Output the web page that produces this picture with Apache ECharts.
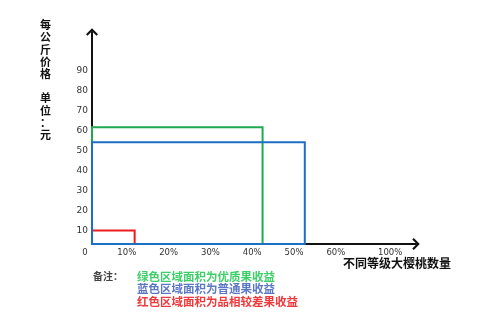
<!DOCTYPE html>
<html>
<head>
<meta charset="utf-8">
<script src="https://cdn.jsdelivr.net/npm/echarts@6/dist/echarts.min.js"></script>
<style>
html,body{margin:0;padding:0;background:#fff;}
#chart{width:496px;height:328px;}
</style>
</head>
<body>
<div id="chart"></div>
<script>
// ---- data ----
const categories = ['优质果', '普通果', '品相较差果'];
const shareValues = [40.8, 50.9, 10.2];   // x: share of cherries (%)
const priceValues = [58.4, 50.9, 6.8];    // y: price per jin (元)
const seriesColors = ['#1faa4f', '#1c6fc2', '#ee1c1c'];
const noteTexts = ['绿色区域面积为优质果收益', '蓝色区域面积为普通果收益', '红色区域面积为品相较差果收益'];
const noteColors = ['#3fcf6a', '#5b78c6', '#f0393b'];
const xTickValues = [0, 10, 20, 30, 40, 50, 60, 73];
const xTickLabels = ['0', '10%', '20%', '30%', '40%', '50%', '60%', '100%'];
const yTickValues = [10, 20, 30, 40, 50, 60, 70, 80, 90];
const yTickLabels = ['10', '20', '30', '40', '50', '60', '70', '80', '90'];
const yAxisName = ['每', '公', '斤', '价', '格', '', '单', '位', '：', '元'];
const xAxisName = '不同等级大樱桃数量';
const noteTitle = '备注：';
// draw order: green, red, blue (blue on top)
const drawOrder = [0, 2, 1];

const chart = echarts.init(document.getElementById('chart'), null, {renderer: 'canvas'});
const arrow = 'path://M10,0 L20,10 L17.5,12.5 L10,5 L2.5,12.5 L0,10 Z';
const cjk = '"Noto Sans CJK SC", sans-serif';

const richNotes = {};
noteColors.forEach((c, i) => { richNotes['n' + i] = {color: c, fontSize: 11.5, lineHeight: 12.5, fontFamily: cjk}; });

const option = {
  animation: false,
  backgroundColor: '#ffffff',
  grid: {left: 92, right: 80, top: 32, bottom: 84, containLabel: false, outerBoundsMode: 'none'},
  title: [
    {
      text: yAxisName.join('\n'), left: 40, top: 19, padding: 0,
      textStyle: {fontSize: 11, fontWeight: 'bold', lineHeight: 12.2, color: '#111', fontFamily: cjk}
    },
    {
      text: xAxisName, left: 343, top: 257, padding: 0,
      textStyle: {fontSize: 12, fontWeight: 'bold', color: '#111', fontFamily: cjk}
    },
    {
      text: noteTitle, left: 93, top: 271, padding: 0,
      textStyle: {fontSize: 10, fontWeight: 'bold', color: '#444', fontFamily: cjk}
    },
    {
      text: noteTexts.map((t, i) => '{n' + i + '|' + t + '}').join('\n'),
      left: 137, top: 270, padding: 0,
      textStyle: {rich: richNotes}
    }
  ],
  xAxis: {
    type: 'value', min: 0, max: 77.5,
    axisLine: {show: true, lineStyle: {color: '#111', width: 2}, symbol: ['none', arrow], symbolSize: [12, 11]},
    axisTick: {show: false},
    splitLine: {show: false},
    axisLabel: {
      customValues: xTickValues,
      formatter: v => { const i = xTickValues.indexOf(v); return i >= 0 ? xTickLabels[i] : ''; },
      fontSize: 8.5, color: '#333', fontFamily: '"DejaVu Sans", sans-serif',
      margin: 4, padding: [0, 14, 0, 0]
    }
  },
  yAxis: {
    type: 'value', min: 0, max: 106,
    axisLine: {show: true, lineStyle: {color: '#111', width: 2}, symbol: ['none', arrow], symbolSize: [12, 10]},
    axisTick: {show: false},
    splitLine: {show: false},
    axisLabel: {
      customValues: yTickValues,
      formatter: v => { const i = yTickValues.indexOf(v); return i >= 0 ? yTickLabels[i] : ''; },
      fontSize: 9, color: '#333', fontFamily: '"DejaVu Sans", sans-serif',
      margin: 4, verticalAlign: 'top', lineHeight: 14
    }
  },
  series: drawOrder.map((k, n) => ({
    name: categories[k],
    type: 'custom',
    z: 5 + n,
    data: [[shareValues[k], priceValues[k]]],
    renderItem: function (params, api) {
      const p0 = api.coord([0, 0]);
      const p1 = api.coord([api.value(0), api.value(1)]);
      return {
        type: 'rect',
        shape: {x: p0[0], y: p1[1], width: p1[0] - p0[0], height: p0[1] - p1[1]},
        style: {fill: 'none', stroke: seriesColors[k], lineWidth: 2}
      };
    }
  }))
};
chart.setOption(option);
</script>
</body>
</html>
